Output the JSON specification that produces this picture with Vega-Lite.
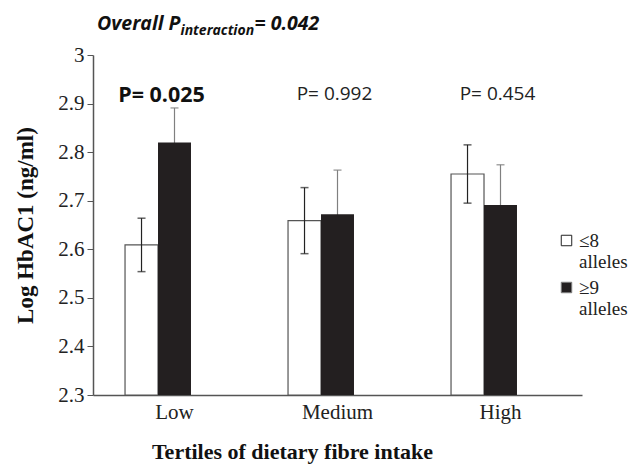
{
  "$schema": "https://vega.github.io/schema/vega-lite/v6.json",
  "width": 489,
  "height": 340,
  "autosize": {"type": "none"},
  "padding": {"left": 93, "top": 55, "right": 59, "bottom": 74},
  "background": "white",
  "config": {
    "view": {"stroke": null},
    "font": "Liberation Serif",
    "legend": {"labelFont": "Liberation Serif", "labelFontSize": 19, "labelColor": "#222"}
  },
  "datasets": {
    "bars": [
      {"tertile": "Low", "alleles": "≤8 alleles", "mean": 2.609, "lo": 2.554, "hi": 2.664},
      {"tertile": "Low", "alleles": "≥9 alleles", "mean": 2.820, "lo": 2.749, "hi": 2.891},
      {"tertile": "Medium", "alleles": "≤8 alleles", "mean": 2.659, "lo": 2.591, "hi": 2.727},
      {"tertile": "Medium", "alleles": "≥9 alleles", "mean": 2.672, "lo": 2.581, "hi": 2.763},
      {"tertile": "High", "alleles": "≤8 alleles", "mean": 2.755, "lo": 2.695, "hi": 2.815},
      {"tertile": "High", "alleles": "≥9 alleles", "mean": 2.691, "lo": 2.608, "hi": 2.774}
    ],
    "pvals": [
      {"tertile": "Low", "label": "P= 0.025", "sig": true},
      {"tertile": "Medium", "label": "P= 0.992", "sig": false},
      {"tertile": "High", "label": "P= 0.454", "sig": false}
    ]
  },
  "encoding": {
    "x": {
      "field": "tertile", "type": "nominal",
      "scale": {"domain": ["Low", "Medium", "High"], "paddingInner": 0.393, "paddingOuter": 0.1965},
      "axis": {
        "title": "Tertiles of dietary fibre intake",
        "titleFont": "Liberation Serif", "titleFontSize": 22, "titleFontWeight": "bold", "titleColor": "#111",
        "titlePadding": 19, "titleX": 199,
        "labelFont": "Liberation Serif", "labelFontSize": 21, "labelColor": "#222", "labelAngle": 0, "labelPadding": 6,
        "ticks": false, "domainColor": "#555", "domainWidth": 1.5
      }
    }
  },
  "layer": [
    {
      "data": {"name": "bars"},
      "transform": [{"filter": "datum.alleles == '≤8 alleles'"}],
      "mark": {"type": "bar", "stroke": "#555", "strokeWidth": 1.2},
      "encoding": {
        "xOffset": {"field": "alleles", "type": "nominal", "scale": {"domain": ["≤8 alleles", "≥9 alleles", "spacer"], "paddingInner": 0, "paddingOuter": 0}},
        "y": {
          "field": "mean", "type": "quantitative",
          "scale": {"domain": [2.3, 3.0], "zero": false, "nice": false},
          "axis": {
            "title": "Log HbAC1 (ng/ml)",
            "titleFont": "Liberation Serif", "titleFontSize": 23, "titleFontWeight": "bold", "titleColor": "#111",
            "titlePadding": 20,
            "values": [2.3, 2.4, 2.5, 2.6, 2.7, 2.8, 2.9, 3.0], "format": "~g",
            "labelFont": "Liberation Serif", "labelFontSize": 21, "labelColor": "#222", "labelPadding": 3,
            "tickSize": 6, "tickColor": "#555", "domainColor": "#555", "domainWidth": 1.5, "grid": false
          }
        },
        "y2": {"datum": 2.3},
        "fill": {
          "field": "alleles", "type": "nominal",
          "scale": {"domain": ["≤8 alleles", "≥9 alleles"], "range": ["#ffffff", "#231f20"]},
          "legend": {
            "orient": "none", "legendX": 464, "legendY": 176, "title": null,
            "symbolType": "square", "symbolSize": 110, "symbolStrokeColor": "#222", "symbolStrokeWidth": 1,
            "labelFont": "Liberation Serif", "labelFontSize": 19, "labelColor": "#222",
            "labelExpr": "split(datum.label, ' ')", "rowPadding": 6, "labelOffset": 3,
            "encode": {"labels": {"update": {"font": {"value": "Liberation Serif"}, "fontSize": {"value": 19}}}}
          }
        }
      }
    },
    {
      "data": {"name": "bars"},
      "mark": {"type": "rule", "strokeWidth": 1.2},
      "encoding": {
        "xOffset": {"field": "alleles", "type": "nominal"},
        "y": {"field": "lo", "type": "quantitative"},
        "y2": {"field": "hi"},
        "stroke": {"field": "alleles", "type": "nominal", "scale": {"domain": ["≤8 alleles", "≥9 alleles"], "range": ["#222222", "#808080"]}, "legend": null}
      }
    },
    {
      "data": {"name": "bars"},
      "mark": {"type": "tick", "size": 8, "thickness": 1.5},
      "encoding": {
        "xOffset": {"field": "alleles", "type": "nominal"},
        "y": {"field": "hi", "type": "quantitative"},
        "color": {"field": "alleles", "type": "nominal", "scale": {"domain": ["≤8 alleles", "≥9 alleles"], "range": ["#222222", "#808080"]}, "legend": null}
      }
    },
    {
      "data": {"name": "bars"},
      "mark": {"type": "tick", "size": 8, "thickness": 1.5},
      "encoding": {
        "xOffset": {"field": "alleles", "type": "nominal"},
        "y": {"field": "lo", "type": "quantitative"},
        "color": {"field": "alleles", "type": "nominal", "legend": null}
      }
    },
    {
      "data": {"name": "bars"},
      "transform": [{"filter": "datum.alleles == '≥9 alleles'"}],
      "mark": {"type": "bar"},
      "encoding": {
        "xOffset": {"field": "alleles", "type": "nominal"},
        "y": {"field": "mean", "type": "quantitative"},
        "y2": {"datum": 2.3},
        "fill": {"field": "alleles", "type": "nominal"}
      }
    },
    {
      "data": {"name": "pvals"},
      "transform": [{"filter": "datum.sig"}],
      "mark": {"type": "text", "font": "Open Sans", "fontSize": 21.5, "fontWeight": "bold", "color": "#111", "dx": -13, "baseline": "middle"},
      "encoding": {
        "y": {"datum": 2.915, "type": "quantitative"},
        "text": {"field": "label"}
      }
    },
    {
      "data": {"name": "pvals"},
      "transform": [{"filter": "!datum.sig"}],
      "mark": {"type": "text", "font": "Open Sans", "fontSize": 19, "color": "#222", "dx": -3, "baseline": "middle"},
      "encoding": {
        "y": {"datum": 2.92, "type": "quantitative"},
        "text": {"field": "label"}
      }
    },
    {
      "data": {"values": [{"tertile": "Low", "part": "Overall P"}]},
      "mark": {"type": "text", "font": "Open Sans", "fontSize": 19.5, "fontWeight": "bold", "fontStyle": "italic", "color": "#111", "align": "right", "dx": 6, "baseline": "alphabetic"},
      "encoding": {
        "y": {"datum": 3.0515, "type": "quantitative"},
        "text": {"field": "part"}
      }
    },
    {
      "data": {"values": [{"tertile": "Low", "part": "interaction"}]},
      "mark": {"type": "text", "font": "Open Sans", "fontSize": 14, "fontWeight": "bold", "fontStyle": "italic", "color": "#111", "align": "left", "dx": 6, "baseline": "alphabetic"},
      "encoding": {
        "y": {"datum": 3.041, "type": "quantitative"},
        "text": {"field": "part"}
      }
    },
    {
      "data": {"values": [{"tertile": "Low", "part": "= 0.042"}]},
      "mark": {"type": "text", "font": "Open Sans", "fontSize": 19.5, "fontWeight": "bold", "fontStyle": "italic", "color": "#111", "align": "left", "dx": 80, "baseline": "alphabetic"},
      "encoding": {
        "y": {"datum": 3.0515, "type": "quantitative"},
        "text": {"field": "part"}
      }
    }
  ]
}
